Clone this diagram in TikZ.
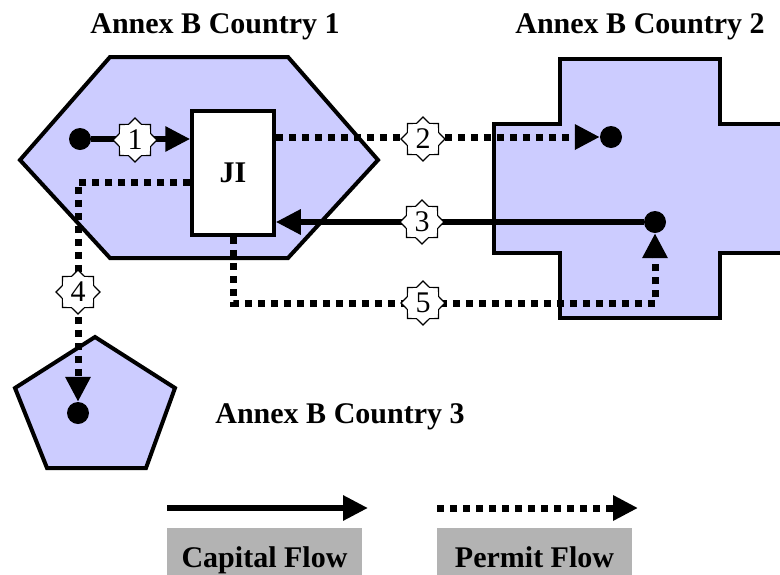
\documentclass[tikz,border=0pt]{standalone}
\usepackage{fontspec}
\setmainfont{Liberation Serif}
\usetikzlibrary{shapes.geometric,arrows.meta}
\definecolor{annexfill}{HTML}{CCCCFF}
\definecolor{legendgray}{HTML}{B3B3B3}

\begin{document}
\begin{tikzpicture}[x=1pt, y=-1pt,
    country/.style={draw, line width=4pt, fill=annexfill, line join=miter},
    capital/.style={line width=6pt, -{Triangle[length=25pt,width=24pt]}},
    permit/.style={line width=7pt, dash pattern=on 7pt off 6pt, -{Triangle[length=25pt,width=24pt]}},
    endpoint/.style={circle, fill=black, minimum size=22pt, inner sep=0pt},
    flownum/.style={star, star points=8, star point ratio=1.3, draw, line width=1.2pt, fill=white, minimum size=44pt, inner sep=0pt},
    numlabel/.style={inner sep=0pt, font=\fontsize{30}{36}\selectfont},
    title/.style={font=\fontsize{30}{36}\selectfont\bfseries, anchor=base},
    legendbox/.style={fill=legendgray, minimum width=195pt, minimum height=58pt, text height=20pt, text depth=0pt, font=\fontsize{30}{36}\selectfont\bfseries}
]
    \useasboundingbox (0,0) rectangle (780,574);

    % Country 1
    \draw[country] (110,57) -- (288,57) -- (378,160) -- (288,258) -- (110,258) -- (20,160) -- cycle;
    \node[title] (title1) at (215,33) {Annex B Country 1};

    % Country 2
    \draw[country] (560,59) -- (720,59) -- (720,124) -- (800,124) -- (800,253) -- (720,253) -- (720,318)
        -- (560,318) -- (560,253) -- (494,253) -- (494,124) -- (560,124) -- cycle;
    \node[title] (title2) at (640,33) {Annex B Country 2};

    % Country 3
    \draw[country] (95,337) -- (175,388) -- (146,468) -- (47,468) -- (15,388) -- cycle;
    \node[title] (title3) at (340,423) {Annex B Country 3};

    % JI project
    \node[draw, line width=3.5pt, fill=white, minimum width=82pt, minimum height=124pt,
        font=\fontsize{30}{36}\selectfont\bfseries] (ji) at (233,173) {JI};

    \node[endpoint] (d1) at (80,139) {};
    \node[endpoint] (d2) at (611,137) {};
    \node[endpoint] (d3) at (655,222) {};
    \node[endpoint] (d4) at (78,413) {};
    \coordinate (c5) at (655,303);

    % flows
    \draw[capital] (d1) -- (d1 -| ji.west);
    \draw[permit] (d2 -| ji.east) -- (d2);
    \draw[capital] (d3) -- (d3 -| ji.east);
    \draw[permit] ([yshift=-9pt]ji.west) -| (d4);
    \draw[permit] (ji.south) |- (c5) -- (d3);

    \node[flownum] (n1) at (135,140) {};
    \node[numlabel] (l1) at (n1) {1};
    \node[flownum] (n2) at (423,139) {};
    \node[numlabel] (l2) at (n2) {2};
    \node[flownum] (n3) at (422,222) {};
    \node[numlabel] (l3) at (n3) {3};
    \node[flownum] (n4) at (78,292) {};
    \node[numlabel] (l4) at (n4) {4};
    \node[flownum] (n5) at (423,303) {};
    \node[numlabel] (l5) at (n5) {5};

    % legend
    \coordinate (capstart) at (167,508);
    \coordinate (capend) at (368,508);
    \coordinate (perstart) at (437,508);
    \coordinate (perend) at (638,508);
    \draw[capital] (capstart) -- (capend);
    \draw[permit] (perstart) -- (perend);
    \node[legendbox] (caplabel) at (264.5,557) {Capital Flow};
    \node[legendbox] (perlabel) at (534.5,557) {Permit Flow};
\end{tikzpicture}
\end{document}
